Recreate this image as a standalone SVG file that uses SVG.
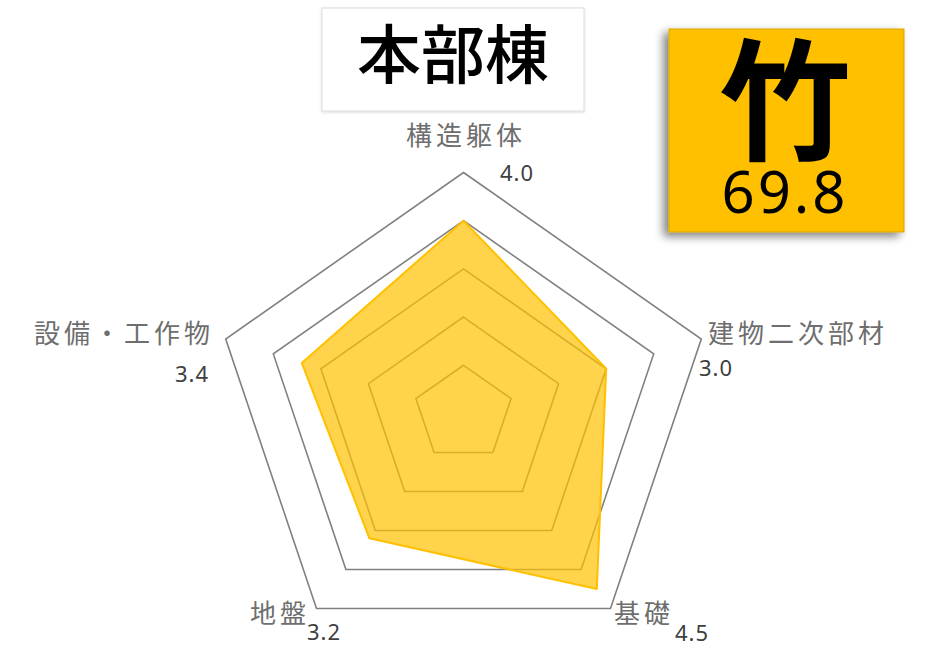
<svg xmlns="http://www.w3.org/2000/svg" width="927" height="650" viewBox="0 0 927 650">
<defs>
<filter id="shadow" x="-20%" y="-20%" width="140%" height="140%">
<feGaussianBlur in="SourceAlpha" stdDeviation="5"/>
<feOffset dx="-5" dy="4" result="b"/>
<feComponentTransfer><feFuncA type="linear" slope="0.5"/></feComponentTransfer>
<feMerge><feMergeNode/><feMergeNode in="SourceGraphic"/></feMerge>
</filter>
<filter id="shadow2" x="-10%" y="-10%" width="120%" height="120%">
<feGaussianBlur in="SourceAlpha" stdDeviation="1.5"/>
<feOffset dx="0" dy="1"/>
<feComponentTransfer><feFuncA type="linear" slope="0.15"/></feComponentTransfer>
<feMerge><feMergeNode/><feMergeNode in="SourceGraphic"/></feMerge>
</filter>
</defs>
<style>
.grid{fill:none;stroke:#808080;stroke-width:1.6;stroke-linejoin:miter}
.data{fill:#FFC000;fill-opacity:0.7;stroke:#FFC000;stroke-width:2;stroke-linejoin:round}
.axis{font-family:"Noto Sans CJK JP","Noto Sans",sans-serif;font-size:26px;fill:#6e6e6e;letter-spacing:4px}
.val{font-family:"Noto Sans","DejaVu Sans",sans-serif;font-size:22px;fill:#404040;letter-spacing:1px}
</style>
<rect width="927" height="650" fill="#ffffff"/>
<g id="title">
<rect x="322" y="8" width="262" height="103" fill="#ffffff" stroke="#dcdcdc" stroke-width="1" filter="url(#shadow2)"/>
<text x="453" y="78" text-anchor="middle" font-family="'Noto Sans CJK JP','Noto Sans CJK SC',sans-serif" font-size="64" font-weight="500" fill="#000000">本部棟</text>
</g>
<g id="badge">
<rect x="669" y="29" width="235" height="203" fill="#FFC000" stroke="#d9a400" stroke-width="1" filter="url(#shadow)"/>
<text x="785" y="150" text-anchor="middle" font-family="'Noto Sans CJK JP','Noto Sans CJK SC',sans-serif" font-size="132" font-weight="bold" fill="#000000">竹</text>
<text x="785" y="213" text-anchor="middle" font-family="'Noto Sans','DejaVu Sans',sans-serif" font-size="58" fill="#000000" letter-spacing="3">69.8</text>
</g>
<g id="grid">
<polygon class="grid" points="463.5,172.5 701.3,339.0 610.5,608.5 316.5,608.5 225.7,339.0"/>
<polygon class="grid" points="463.5,220.7 653.7,353.9 581.1,569.5 345.9,569.5 273.3,353.9"/>
<polygon class="grid" points="463.5,268.9 606.2,368.8 551.7,530.5 375.3,530.5 320.9,368.8"/>
<polygon class="grid" points="463.5,317.1 558.6,383.7 522.3,491.5 404.7,491.5 368.4,383.7"/>
<polygon class="grid" points="463.5,365.3 511.1,398.6 492.9,452.5 434.1,452.5 415.9,398.6"/>
</g>
<g id="data">
<polygon class="data" points="463.5,220.7 606.2,368.8 596.8,589.0 369.4,538.3 301.8,362.9"/>
</g>
<g id="labels">
<text class="axis" x="466" y="145" text-anchor="middle">構造躯体</text>
<text class="val" x="500" y="181">4.0</text>
<text class="axis" x="708" y="343">建物二次部材</text>
<text class="val" x="699" y="376">3.0</text>
<text class="axis" x="614" y="623">基礎</text>
<text class="val" x="675" y="641">4.5</text>
<text class="axis" x="250" y="623">地盤</text>
<text class="val" x="307" y="640">3.2</text>
<text class="axis" x="34" y="343">設備・工作物</text>
<text class="val" x="175" y="382">3.4</text>
</g>
</svg>
